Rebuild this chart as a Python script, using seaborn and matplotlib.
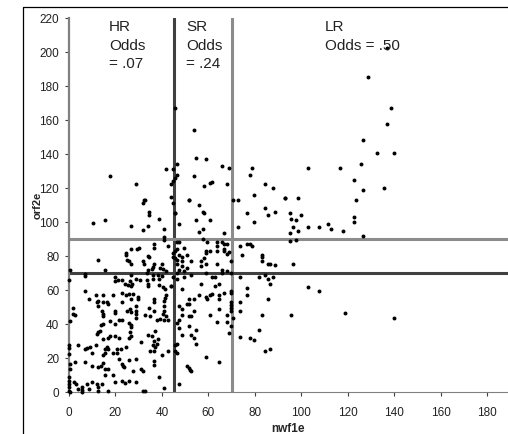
import seaborn as sns
import matplotlib.pyplot as plt
from matplotlib.lines import Line2D

# values, (nwf1e, orf2e)
nwf1e = [
    32.3, 31.7, 34.6, 34.6, 38.7, 15.5, 10.5, 26.7, 34, 31.7, 40.7, 45.6, 40.7, 40.7, 36.7, 36.7,
    30.3, 29.4, 26.7, 24.5, 24.5, 42.5, 33.9, 34.4, 12.6, 24.8, 25.8, 31.7, 32.3, 26.7, 36.7, 39.9,
    36.3, 35.6, 39.2, 40.6, 41.7, 34.2, 0.4, 15.5, 6.9, 6.9, 26.5, 33.7, 36, 38.4, 39.9, 19.8,
    0, 19.8, 21.2, 22.7, 26.3, 28.8, 30.6, 33.7, 36, 38.7, 24.1, 25.5, 27, 26.5, 33.9, 34.1,
    38.7, 40.6, 43.9, 41.3, 6.7, 24.5, 26, 27.7, 22.7, 14.5, 11.6, 18.8, 29.6, 29.6, 26.5, 8.8,
    36.7, 36.7, 41.8, 41.3, 40.9, 40.9, 11.9, 12.6, 14.8, 16.2, 17, 22.7, 28.8, 12.6, 1.9, 14.1,
    14.5, 14.8, 19.8, 19.8, 24.8, 26.3, 26.5, 28.8, 28.8, 34.6, 1.6, 2.6, 32.7, 36.7, 40.9, 40.6,
    41.8, 34.9, 39.2, 37.8, 40.9, 42.8, 28.8, 22.7, 21.7, 17.6, 26, 26.7, 26.5, 19.8, 14.5, 13.6,
    0.4, 37, 12.6, 13.3, 12.2, 26.3, 26.5, 25.8, 17.6, 17, 14.5, 19.8, 21.7, 30.9, 34.1, 35.9,
    38.4, 36.7, 36, 37.7, 37, 34.9, 36.7, 39.9, 42.5, 0, 0, 3.9, 6.9, 7.9, 9, 11.6,
    9.8, 15.5, 16.2, 17, 14.8, 15.5, 18.8, 20.8, 22.4, 20.8, 24.5, 21.7, 25.8, 28.8, 22.7, 23.7,
    23.4, 27.4, 30.9, 31.7, 36.7, 36.7, 38.7, 40.9, 0, 2.6, 0.4, 0.4, 6.9, 9.8, 12.6, 13.6,
    14.8, 15.5, 17, 15.5, 18.8, 19.8, 22.7, 24.1, 25.8, 28.8, 31.7, 32.6, 16.9, 12.6, 12.6, 14.1,
    11.9, 9.8, 7.6, 8.8, 5.5, 5.5, 5.5, 4, 2.2, 2.9, 0, 0, 0, 0, 0, 0.4,
    # second block, 44 to 95
    51.7, 70.8, 72.9, 44.6, 55.8, 57.8, 58.1, 45.8, 84.5, 76.6, 85.8, 88.7, 54.7, 60.9, 79.7, 47.5,
    72.9, 57.8, 55.8, 66.7, 57.8, 59.6, 47.5, 46.7, 63.9, 63.9, 65.7, 66.7, 68.2, 66.7, 66.7, 63.9,
    60.7, 58.9, 58.9, 69, 68.2, 76.6, 77.9, 78.8, 73.8, 74.5, 83, 83, 83, 85.8, 86.7, 88.7,
    49.5, 46.4, 45.7, 44.6, 47.5, 48.8, 51, 44.6, 45.8, 46.7, 48.8, 46.7, 48.8, 52.4, 56.7, 58,
    56.7, 58.9, 63.9, 69.6, 51, 49.5, 47.5, 46.7, 58.9, 65.7, 65.7, 67.9, 69.6, 44.6, 46.4, 49.5,
    52.4, 61.7, 63, 73.8, 81.7, 84.5, 85.8, 87.8, 86.7, 43.8, 48.8, 56.7, 64.6, 63, 76.6, 76.6,
    66.7, 69.6, 69.6, 61.7, 60.9, 64.6, 64.6, 55.8, 58.9, 59.6, 53.8, 51.7, 85.8, 73.8, 69.6, 69.6,
    69.6, 69.6, 51.7, 50.7, 47.5, 48.8, 53.8, 64.6, 73.8, 48.8, 51.7, 52.5, 60.9, 67.9, 70.8, 83,
    47.5, 46.7, 63.9, 67.9, 69.6, 47.5, 51.7, 54.7, 81.7, 68.7, 48.8, 52.5, 53.8, 73.8, 77.9, 79.7,
    54.7, 45.8, 46.7, 45.8, 46.7, 84.5, 86.7, 58.9, 64.6, 51, 51.5, 52.1, 52.7, 47.5,
    # upper part
    45.6, 53.8, 54.7, 58.8, 65.9, 68.9, 46.6, 41.7, 44.6, 17.6, 46.6, 53.8, 28.8, 43.9, 45.6, 44.6,
    58, 61.7, 60.8, 67.9, 77.9, 78.8, 79.6, 84.5, 87.8, 92.8, 43.9, 32.7, 51.8,
    # right side
    137, 128.6, 138.7, 137, 126.6, 132.8, 140, 125.8, 103, 116.6, 122.9, 126.6, 135.7, 123.6,
    93, 98.7, 95, 99.9, 95.7, 97.9, 122.8, 122.8, 96.6, 102.9, 107.8, 111.5, 112.8, 117.8, 98.7, 95,
    126.6, 95, 97.9, 96.6, 102.9, 107.8, 95.7, 118.7, 139.8,
]
orf2e = [
    113, 110.8, 105.7, 104, 101.8, 101, 99, 97.8, 97.5, 95, 96, 105, 91, 89, 87, 84.5,
    84.5, 84, 84, 81.8, 80.6, 85.7, 80, 79.4, 77.6, 77.6, 76.7, 76.7, 75.3, 75.3, 75.3, 75.3,
    73.3, 72, 72.7, 72, 70.8, 71.4, 71.8, 71.8, 69.4, 68.4, 68.8, 70, 68.8, 68.8, 68, 67.5,
    65.9, 65.5, 65.9, 65.9, 65.5, 66.5, 65.9, 65.9, 66.5, 66.5, 63.5, 63, 63.5, 62, 63.5, 62,
    63, 61.6, 62, 60.6, 59.6, 57, 57.6, 57.6, 58, 56.7, 56.7, 56.7, 55.7, 54.7, 54.7, 54.7,
    54.7, 52.7, 56.7, 55.3, 53.7, 50.8, 52.7, 53.7, 52.7, 52.7, 51.8, 52.7, 50.8, 50.8, 49.4, 47.8,
    45.9, 44.9, 47.8, 46.3, 47.8, 48.8, 46.9, 47.8, 45.9, 49.4, 45.9, 45.5, 45.3, 47.8, 47.8, 45.9,
    44.9, 44.5, 42.9, 42.5, 42.5, 42.5, 43.5, 42.5, 42.5, 41.6, 40.6, 39.4, 38, 40, 40, 39.4,
    41.6, 36, 35.5, 35.7, 34, 35.5, 33, 32, 33, 32, 31, 32.7, 31.5, 29.6, 33.5, 32.7,
    31, 30, 27.8, 28.2, 26.3, 24.3, 24.3, 21.8, 24.3, 27.8, 25.9, 27.8, 25.3, 25.7, 26.7, 27.8,
    22.7, 25.3, 26.3, 25.3, 21.8, 22.9, 22.9, 25.3, 25.3, 22.9, 26.7, 19.4, 18.8, 19.4, 16.5, 14.5,
    15.5, 12.5, 13.5, 12.5, 18, 15.9, 8.6, 2.4, 22.4, 17.8, 16.5, 13.5, 17.8, 15.5, 14.5, 15.5,
    16.9, 13.5, 13.5, 10.2, 10.2, 5.7, 6.3, 5.1, 6.3, 5.7, 0.8, 0.8, 0.8, 2.7, 0.8, 4.7,
    4.7, 5.7, 4.7, 1.8, 2.7, 1.4, 0, 1.8, 6, 4.7, 9, 6.7, 4.7, 2.7, 0.8, 0,
    # second block
    113, 113, 113, 110.8, 109.6, 105.7, 104.9, 105, 107.8, 105, 104, 105.5, 101, 101, 99.8, 98.8,
    97, 95.9, 94, 93.5, 89.6, 88, 88.4, 88, 88, 86, 88, 87, 87, 84, 82.7, 82.7,
    82.7, 82.7, 81.6, 82, 81.2, 87, 87, 85.7, 85.7, 80.6, 80.6, 79.2, 76.7, 75.3, 75.3, 74.7,
    84.5, 84, 82.7, 81.6, 80.2, 79.2, 80.6, 79.2, 78.8, 77.6, 76.7, 74.9, 74.1, 76.7, 76.7, 78.8,
    73.9, 74.9, 74.9, 76.7, 72.7, 71, 71.4, 70, 70, 71.8, 70, 71, 70, 67.6, 66.5, 67.6,
    68.8, 67.6, 67.6, 67.6, 67.6, 68.8, 66.5, 67.6, 63.5, 62, 60.6, 63.5, 63.5, 62.5, 61, 56.7,
    58.2, 59.6, 58.2, 57.8, 56.7, 56.7, 54.7, 56.7, 55.7, 54.7, 54.7, 54.7, 54.7, 52.7, 53.1, 51.2,
    49.2, 47.8, 51.8, 51.6, 50.4, 48.8, 47.6, 48.8, 47.6, 45.3, 44.9, 44.9, 45.3, 45.3, 43.7, 45.3,
    42.5, 40.4, 41.4, 41.4, 38.6, 37.5, 38.6, 36.3, 36.3, 34.5, 33.5, 33.5, 32, 32.4, 31.8, 30.6,
    28.4, 27.8, 28.2, 24.3, 22.7, 24.3, 25.3, 20.4, 17.5, 15.5, 14.1, 13.1, 12.4, 4.5,
    # upper part
    166.9, 153.7, 137.7, 136.7, 132.6, 131.6, 134, 131, 131, 127, 127.7, 127, 122, 122, 126, 123.8,
    120.8, 123.6, 122.8, 122, 127.7, 131.6, 115.7, 122, 119.7, 114, 114.6, 113, 113,
    # right side
    202, 184.9, 166.9, 157.7, 148, 140.6, 140.6, 134, 131.6, 131.6, 124.8, 118.5, 119.7, 112.8,
    114, 114, 105, 103.8, 101.6, 101, 102.6, 99.7, 96.9, 96.9, 96.9, 98.7, 95.8, 94.6, 94.6, 93.6,
    91.8, 88.5, 89.5, 75.4, 61.7, 59.5, 45.2, 46.4, 43.7,
]

x_ticks = list(range(0, 200, 20))
y_ticks = list(range(0, 240, 20))
v_cuts = [45, 70]
h_cuts = [70, 90]
cut_colors = ['#404040', '#8c8c8c']
zone_labels = [
    (17.2, ['HR', 'Odds', '= .07']),
    (50.4, ['SR', 'Odds', '= .24']),
    (110.3, ['LR', 'Odds = .50']),
]
label_rows = [212.7, 201.5, 191]

sns.set_style('white')
plt.rcParams['font.family'] = ['Liberation Sans', 'DejaVu Sans']

fig = plt.figure(figsize=(5.08, 4.35), dpi=100)
ax = fig.add_axes([69 / 508, (435 - 393) / 435, (508 - 69) / 508, (393 - 18.5) / 435])

for x, c in zip(v_cuts, cut_colors):
    ax.axvline(x, color=c, lw=2.2, zorder=1)
for y, c in zip(h_cuts, cut_colors):
    ax.axhline(y, color=c, lw=2.2, zorder=1)

sns.scatterplot(x=nwf1e, y=orf2e, color='black', s=8, linewidth=0, ax=ax, zorder=3, clip_on=False)

ax.set_xlim(0, 189)
ax.set_ylim(0, 220)
ax.set_xticks(x_ticks)
ax.set_yticks(y_ticks)
ax.tick_params(axis='both', direction='out', length=3, width=0.8, color='#404040',
               labelsize=8.5, labelcolor='#222222', left=True, bottom=True)
ax.tick_params(axis='y', pad=4)
ax.tick_params(axis='x', pad=7)
ax.set_xlabel('nwf1e', fontsize=8.5, fontweight='bold', labelpad=3)
ax.set_ylabel('orf2e', fontsize=8, fontweight='bold', labelpad=-2)

for side in ['top', 'right']:
    ax.spines[side].set_visible(False)
ax.spines['left'].set_color('#808080')
ax.spines['left'].set_linewidth(1.6)
ax.spines['bottom'].set_color('#808080')
ax.spines['bottom'].set_linewidth(0.8)

for x, rows in zone_labels:
    for row, txt in zip(label_rows, rows):
        ax.text(x, row, txt, fontsize=11, color='#222222', va='baseline', ha='left')

# outer frame, runs off the right and bottom edge
fig.add_artist(Line2D([23 / 508, 23 / 508], [0, 1 - 8 / 435], color='black', lw=0.9))
fig.add_artist(Line2D([23 / 508, 1], [1 - 8 / 435, 1 - 8 / 435], color='black', lw=0.9))

fig.savefig('out.png', dpi=100)
